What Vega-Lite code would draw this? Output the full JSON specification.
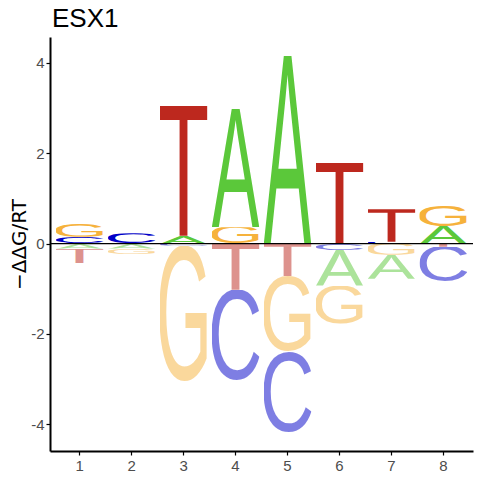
{
  "$schema": "https://vega.github.io/schema/vega-lite/v6.json",
  "width": 423,
  "height": 414,
  "autosize": {"type": "none"},
  "padding": {"left": 50, "top": 37, "right": 7, "bottom": 29},
  "title": {
    "text": "ESX1",
    "anchor": "start",
    "frame": "group",
    "dx": 2,
    "offset": 5,
    "fontSize": 26,
    "fontWeight": "normal",
    "font": "Liberation Sans",
    "color": "black"
  },
  "config": {
    "view": {"stroke": null},
    "axis": {
      "domainColor": "black",
      "domainWidth": 2,
      "tickColor": "black",
      "tickWidth": 1.2,
      "tickSize": 4,
      "labelColor": "#4d4d4d",
      "labelFont": "Liberation Sans",
      "grid": false
    }
  },
  "data": {
    "values": [
      {"pos": 1, "letter": "C", "ddG": 0.15},
      {"pos": 1, "letter": "G", "ddG": 0.28},
      {"pos": 1, "letter": "A", "ddG": -0.11},
      {"pos": 1, "letter": "T", "ddG": -0.33},
      {"pos": 2, "letter": "C", "ddG": 0.23},
      {"pos": 2, "letter": "G", "ddG": -0.12},
      {"pos": 2, "letter": "A", "ddG": -0.11},
      {"pos": 3, "letter": "A", "ddG": 0.17},
      {"pos": 3, "letter": "T", "ddG": 2.88},
      {"pos": 3, "letter": "C", "ddG": -0.05},
      {"pos": 3, "letter": "G", "ddG": -2.99},
      {"pos": 4, "letter": "G", "ddG": 0.36},
      {"pos": 4, "letter": "A", "ddG": 2.62},
      {"pos": 4, "letter": "T", "ddG": -1.02},
      {"pos": 4, "letter": "C", "ddG": -2.0},
      {"pos": 5, "letter": "A", "ddG": 4.16},
      {"pos": 5, "letter": "T", "ddG": -0.72},
      {"pos": 5, "letter": "G", "ddG": -1.66},
      {"pos": 5, "letter": "C", "ddG": -1.79},
      {"pos": 6, "letter": "T", "ddG": 1.79},
      {"pos": 6, "letter": "C", "ddG": -0.14},
      {"pos": 6, "letter": "A", "ddG": -0.79},
      {"pos": 6, "letter": "G", "ddG": -0.85},
      {"pos": 7, "letter": "C", "ddG": 0.04},
      {"pos": 7, "letter": "T", "ddG": 0.72},
      {"pos": 7, "letter": "G", "ddG": -0.25},
      {"pos": 7, "letter": "A", "ddG": -0.53},
      {"pos": 8, "letter": "A", "ddG": 0.39},
      {"pos": 8, "letter": "G", "ddG": 0.46},
      {"pos": 8, "letter": "T", "ddG": -0.07},
      {"pos": 8, "letter": "C", "ddG": -0.77}
    ]
  },
  "layer": [
    {
      "transform": [
        {"calculate": "abs(datum.ddG)", "as": "mag"},
        {"stack": "ddG", "groupby": ["pos"], "sort": [{"field": "mag", "order": "ascending"}], "as": ["lo", "hi"]},
        {"calculate": "\"data:image/svg+xml;utf8,<svg xmlns='http://www.w3.org/2000/svg' width='100' height='100' viewBox='0 0 100 100' preserveAspectRatio='none'><text font-family='Liberation Sans, Arial, sans-serif' lengthAdjust='spacingAndGlyphs' \" + (datum.letter == 'A' ? \"font-size='145.3' x='0.2' y='100' textLength='99.6' fill='rgb(91,200,58)'\" : datum.letter == 'C' ? \"font-size='141' x='-7.9' y='98.5' textLength='114.1' fill='rgb(0,0,200)'\" : datum.letter == 'G' ? \"font-size='141' x='-8.4' y='98.5' textLength='117.7' fill='rgb(246,178,60)'\" : \"font-size='145.3' x='-3.9' y='100' textLength='107.8' fill='rgb(189,40,30)'\") + \">\" + datum.letter + \"</text></svg>\"", "as": "glyph"}
      ],
      "mark": {"type": "image", "aspect": false},
      "encoding": {
        "x": {
          "field": "pos",
          "type": "ordinal",
          "scale": {"paddingInner": 0.08, "paddingOuter": 0.11},
          "axis": {"title": null, "labelAngle": 0, "labelFontSize": 15, "labelPadding": 3}
        },
        "y": {
          "field": "hi",
          "type": "quantitative",
          "scale": {"domain": [-4.59, 4.57], "nice": false, "zero": false},
          "axis": {
            "values": [-4, -2, 0, 2, 4],
            "labelExpr": "replace(datum.label, '\u2212', '-')",
            "labelFontSize": 15,
            "labelPadding": 2,
            "title": "\u2212\u0394\u0394G/RT",
            "titleFont": "DejaVu Sans",
            "titleFontSize": 20,
            "titleFontWeight": "normal",
            "titleColor": "black",
            "titleAngle": -90,
            "titleAlign": "center",
            "titleBaseline": "alphabetic",
            "titleX": -25,
            "titleY": 207
          }
        },
        "y2": {"field": "lo"},
        "url": {"field": "glyph"},
        "opacity": {"condition": {"test": "datum.ddG < 0", "value": 0.5}, "value": 1}
      }
    },
    {
      "data": {"values": [{}]},
      "mark": {"type": "rule", "color": "black", "strokeWidth": 1.2},
      "encoding": {"y": {"datum": 0}}
    }
  ]
}
